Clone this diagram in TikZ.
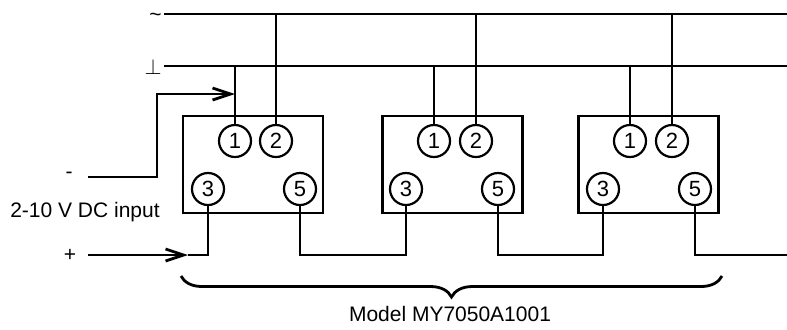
\documentclass[tikz,border=0pt]{standalone}
\usepackage{fontspec}
\setmainfont{Liberation Sans}
\usetikzlibrary{calc, arrows.meta, decorations.pathreplacing}
\tikzset{
	wire/.style={line width=1.4pt},
	arrow/.style={line width=1.4pt, -{Straight Barb[length=9pt, width=6pt, line width=1.4pt]}},
	module/.style={draw, line width=1.4pt, minimum width=70pt, minimum height=48.5pt, inner sep=0pt},
	terminal/.style={circle, draw, fill=white, line width=1.1pt, minimum size=16pt, inner sep=0pt, font=\fontsize{11}{12}\selectfont},
}

\begin{document}
\begin{tikzpicture}[x=0.5pt, y=-0.5pt, font=\fontsize{10.5}{12}\selectfont]
	\useasboundingbox (0,0) rectangle (787,329);

% Supply lines
		\coordinate (ac) at (164,14);
		\coordinate (acend) at (787,14);
		\coordinate (gnd) at (164,66);
		\coordinate (gndend) at (787,66);
		\draw[wire] (ac) -- (acend);
		\draw[wire] (gnd) -- (gndend);
		\node[left, inner sep=1pt] (aclabel) at ($(ac)+(0,3)$) {\textasciitilde};
		\node[left, inner sep=1pt] (gndlabel) at ($(gnd)+(0,1)$) {$\perp$};

% First module
		\node[module] (box1) at (253,164.5) {};
		\node[terminal] (m1t1) at (235,141) {1};
		\node[terminal] (m1t2) at (276,141) {2};
		\node[terminal] (m1t3) at (208,189) {3};
		\node[terminal] (m1t5) at (300,189) {5};

% Second module
		\node[module] (box2) at (452.5,164.5) {};
		\node[terminal] (m2t1) at (434,141) {1};
		\node[terminal] (m2t2) at (476,141) {2};
		\node[terminal] (m2t3) at (406,189) {3};
		\node[terminal] (m2t5) at (498,189) {5};

% Third module
		\node[module] (box3) at (648.5,164.5) {};
		\node[terminal] (m3t1) at (630,141) {1};
		\node[terminal] (m3t2) at (672,141) {2};
		\node[terminal] (m3t3) at (603,189) {3};
		\node[terminal] (m3t5) at (695,189) {5};

% Supply connections
		\draw[wire] (m1t1) -- (m1t1 |- gnd);
		\draw[wire] (m1t2) -- (m1t2 |- ac);
		\draw[wire] (m2t1) -- (m2t1 |- gnd);
		\draw[wire] (m2t2) -- (m2t2 |- ac);
		\draw[wire] (m3t1) -- (m3t1 |- gnd);
		\draw[wire] (m3t2) -- (m3t2 |- ac);

% Signal input
		\coordinate (minus) at (88,177);
		\coordinate (minusbend) at (157,94);
		\coordinate (plus) at (88,255);
		\coordinate (plustip) at (188,255);
		\coordinate (rail) at (0,255);
		\coordinate (railend) at (787,255);
		\node (minuslabel) at (69,175) {-};
		\node (pluslabel) at (70,255) {+};
		\node (inputlabel) at (85,212) {2-10 V DC input};
		\draw[arrow] (minus) -| (minusbend) -- (minusbend -| m1t1);
		\draw[arrow] (plus) -- (plustip);
		\draw[wire] (plustip) -| (m1t3);

% Chained terminals
		\draw[wire] (m1t5) -- (m1t5 |- rail) -| (m2t3);
		\draw[wire] (m2t5) -- (m2t5 |- rail) -| (m3t3);
		\draw[wire] (m3t5) -- (m3t5 |- rail) -- (railend);

% Model brace
		\draw[wire, decorate, decoration={brace, mirror, amplitude=10.5pt}] (181,276) -- (722,276);
		\node (model) at (450,314) {Model MY7050A1001};
\end{tikzpicture}
\end{document}
